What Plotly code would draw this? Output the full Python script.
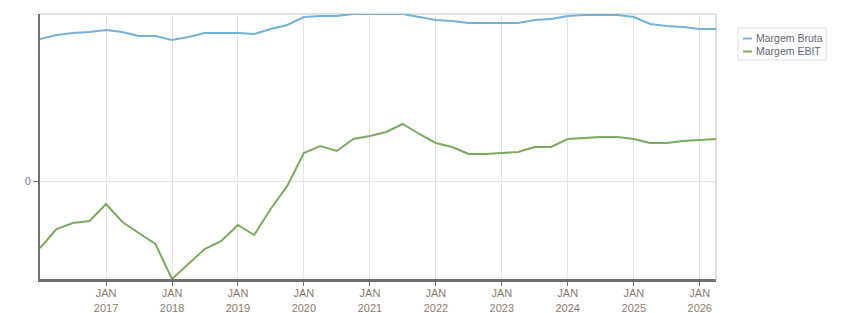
import plotly.graph_objects as go
import pandas as pd

dates = pd.date_range("2016-01-01", "2026-04-01", freq="QS").strftime("%Y-%m-%d").tolist()

margem_bruta = [14.2, 14.6, 14.8, 14.9, 15.1, 14.9, 14.5, 14.5, 14.1, 14.4, 14.8, 14.8,
                14.8, 14.7, 15.2, 15.6, 16.4, 16.5, 16.5, 16.7, 16.7, 16.7, 16.7, 16.4,
                16.1, 16.0, 15.8, 15.8, 15.8, 15.8, 16.1, 16.2, 16.5, 16.6, 16.6, 16.6,
                16.4, 15.7, 15.5, 15.4, 15.2, 15.2]

margem_ebit = [-6.7, -4.8, -4.2, -4.0, -2.3, -4.1, -5.2, -6.3, -9.8, -8.3, -6.8, -6.0,
               -4.4, -5.4, -2.8, -0.5, 2.8, 3.5, 3.0, 4.2, 4.5, 4.9, 5.7, 4.7,
               3.8, 3.4, 2.7, 2.7, 2.8, 2.9, 3.4, 3.4, 4.2, 4.3, 4.4, 4.4,
               4.2, 3.8, 3.8, 4.0, 4.1, 4.2]

series_names = ["Margem Bruta", "Margem EBIT"]
series_colors = ["#74b1d6", "#7ca95e"]

tick_vals = [f"{y}-01-01" for y in range(2017, 2027)]
tick_text = [f"JAN<br>{y}" for y in range(2017, 2027)]

fig = go.Figure()
for name, vals, col in zip(series_names, [margem_bruta, margem_ebit], series_colors):
    fig.add_trace(go.Scatter(x=dates, y=vals, name=name, mode="lines",
                             line=dict(color=col, width=2)))

# plot area: x 40..716, y 14..279 (px)
PW, PH = 676, 265
def px_x(p):
    return (p - 40) / PW
def px_y(p):
    return (279 - p) / PH

shapes = [
    dict(type="line", xref="paper", yref="paper", x0=0, x1=1, y0=1, y1=1,
         line=dict(color="#e0e0e0", width=2), layer="below"),
    dict(type="line", xref="paper", yref="paper", x0=1, x1=1, y0=0, y1=1,
         line=dict(color="#e0e0e0", width=2), layer="below"),
    # legend box
    dict(type="rect", xref="paper", yref="paper",
         x0=px_x(738), x1=px_x(826), y0=px_y(60), y1=px_y(28),
         line=dict(color="#dddddd", width=1), fillcolor="white"),
]
for i, col in enumerate(series_colors):
    yy = px_y(38.5 + 13 * i)
    shapes.append(dict(type="line", xref="paper", yref="paper",
                       x0=px_x(743), x1=px_x(752), y0=yy, y1=yy,
                       line=dict(color=col, width=2)))

annotations = []
for i, name in enumerate(series_names):
    annotations.append(dict(text=name, xref="paper", yref="paper",
                            x=px_x(754), y=px_y(38.5 + 13 * i),
                            xanchor="left", yanchor="middle", showarrow=False,
                            font=dict(size=10.5, color="#666677",
                                      family="Liberation Sans, Arial, sans-serif")))

fig.update_layout(
    width=851, height=313,
    margin=dict(l=40, r=135, t=14, b=34, autoexpand=False),
    paper_bgcolor="white", plot_bgcolor="white",
    font=dict(family="Liberation Sans, Arial, sans-serif", size=11, color="#8c7b6e"),
    showlegend=False,
    shapes=shapes,
    annotations=annotations,
)
fig.update_xaxes(
    range=[dates[0], dates[-1]],
    tickvals=tick_vals, ticktext=tick_text,
    showgrid=True, gridcolor="#e3e3e3", gridwidth=1,
    showline=True, linecolor="#707070", linewidth=3,
    ticks="outside", ticklen=4, tickcolor="#707070",
    ticklabelstandoff=-2,
    tickfont=dict(color="#8c7b6e", size=11),
    zeroline=False, automargin=False,
)
fig.update_yaxes(
    range=[-9.8, 16.7],
    tickvals=[0], ticktext=["0"],
    showgrid=True, gridcolor="#e3e3e3", gridwidth=1,
    showline=True, linecolor="#707070", linewidth=2,
    ticks="outside", ticklen=5, tickcolor="#707070",
    tickfont=dict(color="#7a7a9a", size=11),
    zeroline=False, automargin=False,
)

fig.write_html("out.html")
